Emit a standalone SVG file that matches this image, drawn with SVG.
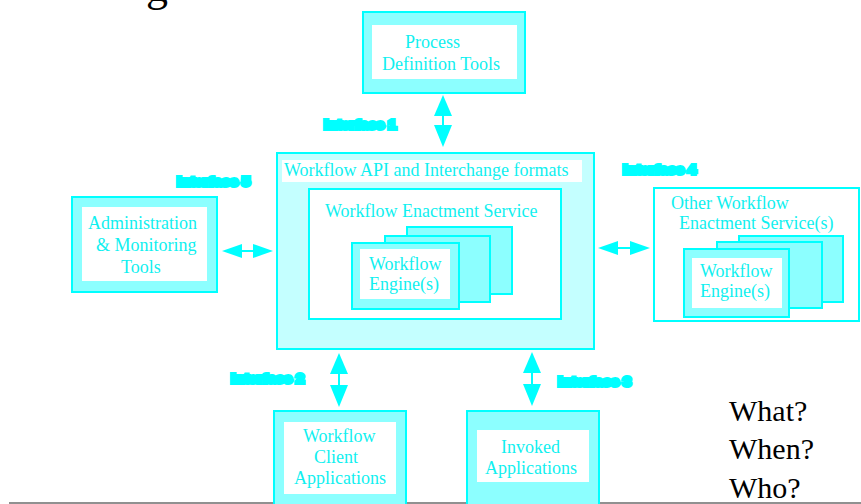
<svg xmlns="http://www.w3.org/2000/svg" width="861" height="504" viewBox="0 0 861 504">
  <style>
    .box { fill: #8cffff; stroke: #00ffff; stroke-width: 2; }
    .pale { fill: #c4ffff; stroke: #00ffff; stroke-width: 2; }
    .plain { fill: #ffffff; stroke: #00ffff; stroke-width: 2; }
    .inner { fill: #ffffff; stroke: none; }
    .lbl { font-family: "Liberation Serif", "Times New Roman", serif; font-size: 18px; fill: #10f0f0; }
    .iface { font-family: "Liberation Sans", Arial, sans-serif; font-weight: bold; font-size: 13px; fill: #00ffff; stroke: #00ffff; stroke-width: 4; stroke-linejoin: miter; }
    .arrow { fill: #00ffff; stroke: none; }
    .shaft { stroke: #00ffff; stroke-width: 2; }
    .q { font-family: "Liberation Serif", "Times New Roman", serif; font-size: 30px; fill: #000000; }
  </style>

  <!-- heading fragment and footer rule -->
  <text x="146" y="1" font-family="Liberation Serif, serif" font-size="44" fill="#000">g</text>
  <line x1="9" y1="503" x2="861" y2="503" stroke="#909090" stroke-width="2"/>

  <!-- connectors -->
  <g id="connectors">
    <!-- Process Definition Tools <-> API -->
    <line class="shaft" x1="443" y1="112" x2="443" y2="130"/>
    <polygon class="arrow" points="443,95 452,116 434,116"/>
    <polygon class="arrow" points="443,147 452,125 434,125"/>
    <!-- Administration <-> API -->
    <line class="shaft" x1="238" y1="251" x2="257" y2="251"/>
    <polygon class="arrow" points="222,251 242,244 242,258"/>
    <polygon class="arrow" points="273,251 253,244 253,258"/>
    <!-- API <-> Other Enactment Services -->
    <line class="shaft" x1="614" y1="248" x2="634" y2="248"/>
    <polygon class="arrow" points="598,248 618,241 618,255"/>
    <polygon class="arrow" points="650,248 630,241 630,255"/>
    <!-- API <-> Client Applications -->
    <line class="shaft" x1="339" y1="370" x2="339" y2="390"/>
    <polygon class="arrow" points="339,353 348,374 330,374"/>
    <polygon class="arrow" points="339,407 348,385 330,385"/>
    <!-- API <-> Invoked Applications -->
    <line class="shaft" x1="532" y1="369" x2="532" y2="389"/>
    <polygon class="arrow" points="532,352 541,373 523,373"/>
    <polygon class="arrow" points="532,406 541,384 523,384"/>
  </g>

  <!-- interface labels -->
  <g id="interface-labels">
    <text class="iface" x="324" y="129" textLength="72" lengthAdjust="spacingAndGlyphs">Interface 1</text>
    <text class="iface" x="177" y="186" textLength="73" lengthAdjust="spacingAndGlyphs">Interface 5</text>
    <text class="iface" x="623" y="174" textLength="73" lengthAdjust="spacingAndGlyphs">Interface 4</text>
    <text class="iface" x="231" y="383" textLength="73" lengthAdjust="spacingAndGlyphs">Interface 2</text>
    <text class="iface" x="558" y="386" textLength="73" lengthAdjust="spacingAndGlyphs">Interface 3</text>
  </g>

  <!-- Process Definition Tools -->
  <g id="process-definition-tools">
    <rect class="box" x="363" y="12" width="162" height="81"/>
    <rect class="inner" x="372" y="25" width="145" height="54"/>
    <text class="lbl" x="405" y="48">Process</text>
    <text class="lbl" x="382" y="70">Definition Tools</text>
  </g>

  <!-- Administration & Monitoring Tools -->
  <g id="administration-tools">
    <rect class="box" x="72" y="197" width="145" height="95"/>
    <rect class="inner" x="82" y="207" width="125" height="74"/>
    <text class="lbl" x="88" y="229">Administration</text>
    <text class="lbl" x="96" y="251">&amp; Monitoring</text>
    <text class="lbl" x="121" y="273">Tools</text>
  </g>

  <!-- Workflow API and Interchange formats -->
  <g id="workflow-api">
    <rect class="pale" x="277" y="153" width="317" height="196"/>
    <rect class="inner" x="282" y="160" width="300" height="22"/>
    <text class="lbl" x="284" y="176">Workflow API and Interchange formats</text>
  </g>

  <!-- Workflow Enactment Service -->
  <g id="enactment-service">
    <rect class="plain" x="309" y="189" width="252" height="130"/>
    <text class="lbl" x="325" y="217">Workflow Enactment Service</text>
  </g>

  <!-- Workflow Engine(s) stack -->
  <g id="workflow-engines">
    <rect class="box" x="407" y="227" width="105" height="67"/>
    <rect class="box" x="385" y="236" width="105" height="66"/>
    <rect class="box" x="352" y="243" width="107" height="66"/>
    <rect class="inner" x="360" y="249" width="90" height="50"/>
    <text class="lbl" x="369" y="270">Workflow</text>
    <text class="lbl" x="369" y="290">Engine(s)</text>
  </g>

  <!-- Other Workflow Enactment Service(s) -->
  <g id="other-enactment-services">
    <rect class="plain" x="654" y="188" width="205" height="133"/>
    <text class="lbl" x="671" y="209">Other Workflow</text>
    <text class="lbl" x="679" y="229">Enactment Service(s)</text>
    <rect class="box" x="739" y="236" width="104" height="66"/>
    <rect class="box" x="717" y="242" width="105" height="66"/>
    <rect class="box" x="684" y="249" width="105" height="68"/>
    <rect class="inner" x="692" y="258" width="90" height="50"/>
    <text class="lbl" x="700" y="277">Workflow</text>
    <text class="lbl" x="700" y="297">Engine(s)</text>
  </g>

  <!-- Workflow Client Applications -->
  <g id="client-applications">
    <rect class="box" x="274" y="411" width="132" height="100"/>
    <rect class="inner" x="284" y="422" width="112" height="72"/>
    <text class="lbl" x="303" y="442">Workflow</text>
    <text class="lbl" x="314" y="463">Client</text>
    <text class="lbl" x="294" y="484">Applications</text>
  </g>

  <!-- Invoked Applications -->
  <g id="invoked-applications">
    <rect class="box" x="467" y="411" width="132" height="100"/>
    <rect class="inner" x="477" y="430" width="112" height="52"/>
    <text class="lbl" x="501" y="453">Invoked</text>
    <text class="lbl" x="485" y="474">Applications</text>
  </g>

  <!-- questions -->
  <g id="questions">
    <text class="q" x="729" y="421">What?</text>
    <text class="q" x="729" y="459">When?</text>
    <text class="q" x="729" y="498">Who?</text>
  </g>
</svg>
